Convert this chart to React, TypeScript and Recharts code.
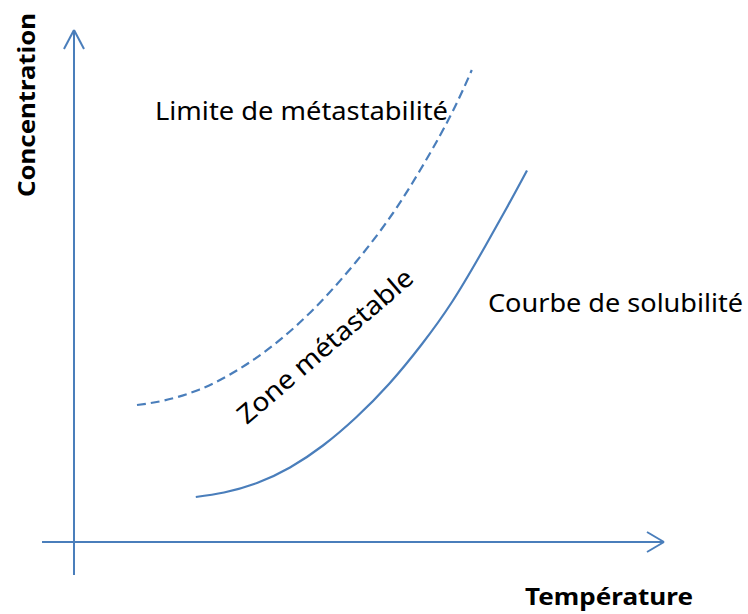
import { LineChart, Line, XAxis, YAxis, ReferenceLine } from 'recharts';

// temperature (x) vs concentration (y), arbitrary units, origin at the axes crossing
const SOLUBILITY_T = [20.3, 25, 30.5, 36, 41.5, 47, 52.5, 58, 63, 67.7, 72.2, 75.5];
const SOLUBILITY_C = [9.0, 9.9, 11.8, 14.9, 19.3, 24.9, 31.6, 39.6, 48.0, 57.4, 67.0, 74.3];

const METASTABLE_T = [10.5, 15, 20.5, 26, 31.5, 37, 42.5, 48, 53, 57.2, 61, 64, 66.3];
const METASTABLE_C = [27.4, 28.3, 30.3, 33.5, 37.8, 43.2, 49.8, 57.5, 65.5, 73.4, 81.3, 88.3, 94.4];

const solubility = SOLUBILITY_T.map((t, i) => ({ t, c: SOLUBILITY_C[i] }));
const metastable = METASTABLE_T.map((t, i) => ({ t, c: METASTABLE_C[i] }));

const BLUE = '#4a7ebb';
const FONT = '"Noto Sans", "Open Sans", sans-serif';

export default function App() {
    return (
        <div style={{ position: 'fixed', left: 0, top: 0, background: 'white' }}>
            <LineChart width={748} height={614} margin={{ top: 0, right: 0, bottom: 0, left: 0 }}>
                <XAxis type="number" dataKey="t" domain={[-12.333, 112.333]} hide allowDataOverflow />
                <YAxis type="number" dataKey="c" domain={[-14.4, 108.4]} hide allowDataOverflow />

                {/* axes with arrow heads */}
                <ReferenceLine segment={[{ x: 0, y: -6.6 }, { x: 0, y: 102.4 }]} stroke={BLUE} strokeWidth={2} ifOverflow="visible" />
                <ReferenceLine segment={[{ x: -1.67, y: 98.6 }, { x: 0, y: 102.4 }]} stroke={BLUE} strokeWidth={2} ifOverflow="visible" />
                <ReferenceLine segment={[{ x: 1.67, y: 98.6 }, { x: 0, y: 102.4 }]} stroke={BLUE} strokeWidth={2} ifOverflow="visible" />
                <ReferenceLine segment={[{ x: -5.33, y: 0 }, { x: 98.33, y: 0 }]} stroke={BLUE} strokeWidth={2} ifOverflow="visible" />
                <ReferenceLine segment={[{ x: 95.5, y: 2 }, { x: 98.33, y: 0 }]} stroke={BLUE} strokeWidth={2} ifOverflow="visible" />
                <ReferenceLine segment={[{ x: 95.5, y: -2 }, { x: 98.33, y: 0 }]} stroke={BLUE} strokeWidth={2} ifOverflow="visible" />

                <Line data={metastable} dataKey="c" type="natural" stroke={BLUE} strokeWidth={2.2} strokeDasharray="9 5" dot={false} activeDot={false} isAnimationActive={false} />
                <Line data={solubility} dataKey="c" type="natural" stroke={BLUE} strokeWidth={2.2} dot={false} activeDot={false} isAnimationActive={false} />

                <text x={35} y={105} transform="rotate(-90, 35, 105)" textAnchor="middle" fontFamily={FONT} fontWeight="bold" fontSize={23} fill="#000" textLength={184} lengthAdjust="spacingAndGlyphs">Concentration</text>
                <text x={609} y={605} textAnchor="middle" fontFamily={FONT} fontWeight="bold" fontSize={23} fill="#000" textLength={168} lengthAdjust="spacingAndGlyphs">Température</text>
                <text x={155} y={120} fontFamily={FONT} fontSize={25} fill="#000" textLength={293} lengthAdjust="spacingAndGlyphs">Limite de métastabilité</text>
                <text x={488} y={312} fontFamily={FONT} fontSize={25} fill="#000" textLength={255} lengthAdjust="spacingAndGlyphs">Courbe de solubilité</text>
                <text x={331} y={353} transform="rotate(-40.6, 331, 353)" textAnchor="middle" fontFamily={FONT} fontSize={26} fill="#000" textLength={222} lengthAdjust="spacingAndGlyphs">Zone métastable</text>
            </LineChart>
        </div>
    );
}
